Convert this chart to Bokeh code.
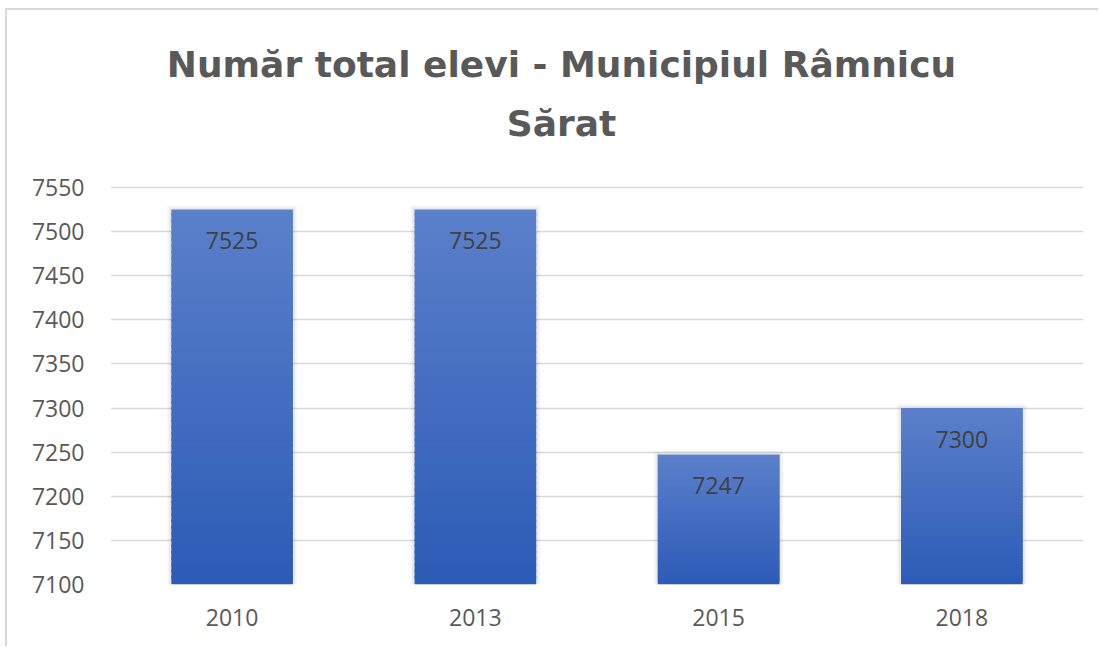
import numpy as np
from bokeh.plotting import figure
from bokeh.models import ColumnDataSource, Label, LabelSet, FactorRange, Range1d, FixedTicker
from bokeh.core.properties import value
from bokeh.embed import file_html
from bokeh.resources import INLINE

# ---- data ----
years = ["2010", "2013", "2015", "2018"]
students = [7525, 7525, 7247, 7300]
y_ticks = [7100, 7150, 7200, 7250, 7300, 7350, 7400, 7450, 7500, 7550]
title_lines = ["Număr total elevi - Municipiul Râmnicu", "Sărat"]

Y_MIN, Y_MAX = 7100, 7550
FONT = "Open Sans"
TITLE_FONT = "DejaVu Sans"
GREY = "#595959"
W, H = 1093, 638
BOTTOM_BORDER = 64
GRID_PX = 397                      # pixel height of the 7100..7550 grid
FRAME_PX = H - BOTTOM_BORDER       # frame reaches to the top so the title fits inside it
Y_END = Y_MIN + (Y_MAX - Y_MIN) * FRAME_PX / GRID_PX
UNITS_PER_PX = (Y_MAX - Y_MIN) / GRID_PX

p = figure(
    x_range=FactorRange(*years, range_padding=0),
    y_range=Range1d(Y_MIN, Y_END),
    width=W, height=H,
    output_backend="svg", toolbar_location=None,
    min_border_left=103, min_border_right=17,
    min_border_top=0, min_border_bottom=BOTTOM_BORDER,
)
p.styles = {"border-left": "2px solid #d9d9d9", "border-top": "2px solid #d9d9d9",
            "margin-left": "5px", "margin-top": "8px"}
p.outline_line_color = None
p.background_fill_color = "white"
p.border_fill_color = "white"

# soft shadow behind bars
for extra_w, extra_px, a in [(0.034, 4, 0.035), (0.018, 2, 0.05)]:
    p.vbar(x=years, bottom=Y_MIN, top=[v + extra_px * UNITS_PER_PX for v in students],
           width=0.5 + extra_w, fill_color="#000000", fill_alpha=a, line_color=None)

# gradient bars: each bar drawn as thin slices from base to its value
n = 60
top_rgb = np.array([0x5b, 0x80, 0xcb])
bot_rgb = np.array([0x2c, 0x5b, 0xb6])
xs, bots, tops, cols = [], [], [], []
for yr, v in zip(years, students):
    for k in range(n):
        b = Y_MIN + (v - Y_MIN) * k / n
        t = Y_MIN + (v - Y_MIN) * (k + 1) / n
        f = (k + 0.5) / n
        c = bot_rgb + (top_rgb - bot_rgb) * f
        xs.append(yr)
        bots.append(b)
        tops.append(min(t + 2.5, v))
        cols.append("#%02x%02x%02x" % tuple(int(round(z)) for z in c))
p.vbar(x=xs, bottom=bots, top=tops, width=0.5, fill_color=cols, line_color=None)

# value labels
src = ColumnDataSource(dict(x=years, y=students, t=[str(s) for s in students]))
p.add_layout(LabelSet(x="x", y="y", text="t", source=src, y_offset=-31,
                      text_align="center", text_baseline="middle",
                      text_font=value(FONT), text_font_size="23px", text_color="#404040"))

# title (two centered lines); screen units are relative to the plot frame
for line, yy in zip(title_lines, [520, 461]):
    p.add_layout(Label(x=451, y=yy, x_units="screen", y_units="screen", text=line,
                       text_align="center", text_baseline="middle",
                       text_font=TITLE_FONT, text_font_size="36px", text_font_style="bold",
                       text_color=GREY))

# axes & grid
p.yaxis.ticker = FixedTicker(ticks=y_ticks)
p.ygrid.ticker = FixedTicker(ticks=y_ticks)
p.xgrid.grid_line_color = None
p.ygrid.grid_line_color = "#d9d9d9"
p.ygrid.grid_line_width = 1.5
for ax in (p.xaxis, p.yaxis):
    ax.axis_line_color = None
    ax.major_tick_line_color = None
    ax.minor_tick_line_color = None
    ax.major_tick_out = 0
    ax.major_tick_in = 0
    ax.major_label_text_font = FONT
    ax.major_label_text_font_size = "23px"
    ax.major_label_text_color = GREY
p.yaxis.major_label_standoff = 26
p.xaxis.major_label_standoff = 24

open("out.html", "w").write(file_html(p, INLINE))
